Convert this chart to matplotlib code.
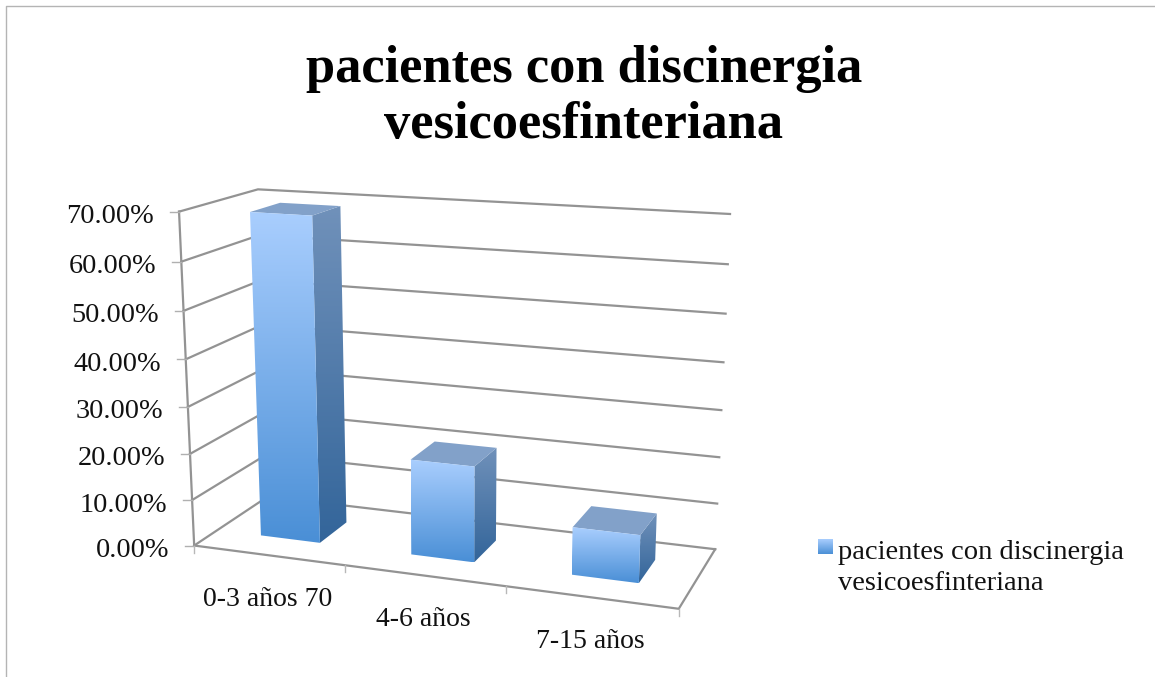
import numpy as np
import matplotlib
matplotlib.use('Agg')
import matplotlib.pyplot as plt
from matplotlib.patches import Polygon

# Data
categories = ['0-3 años 70', '4-6 años', '7-15 años']
values = [69, 20.4, 10]
y_ticks = [0, 10, 20, 30, 40, 50, 60, 70]
y_tick_labels = ['0.00%', '10.00%', '20.00%', '30.00%', '40.00%', '50.00%', '60.00%', '70.00%']
series_name = 'pacientes con discinergia\nvesicoesfinteriana'
title = 'pacientes con discinergia\nvesicoesfinteriana'

# Style
W, H = 1155, 677
grid_color = '#939393'
serif = 'Liberation Serif'
bar_width = 0.4
bar_depth = (0.3, 0.7)

# 3D chart box corners (category, value, depth) and where they land on the canvas
box_corners = [(0, 0, 0), (0, 70, 0), (0, 0, 1), (0, 70, 1), (3, 0, 1), (3, 70, 1), (3, 0, 0)]
box_pixels = [(194, 545), (179, 212), (268, 497), (258, 189), (715, 549), (730, 214), (679, 609)]


def fit_camera(corners, pixels):
    # plain DLT fit for a perspective camera
    rows = []
    for (x, y, z), (u, v) in zip(corners, pixels):
        rows.append([x, y, z, 1, 0, 0, 0, 0, -u * x, -u * y, -u * z, -u])
        rows.append([0, 0, 0, 0, x, y, z, 1, -v * x, -v * y, -v * z, -v])
    return np.linalg.svd(np.array(rows, dtype=float))[2][-1].reshape(3, 4)


camera = fit_camera(box_corners, box_pixels)


def project(x, y, z):
    p = camera @ np.array([x, y, z, 1.0])
    return p[0] / p[2], p[1] / p[2]


def gradient_fill(ax, points, top, bottom, zorder):
    points = np.array(points)
    patch = Polygon(points, closed=True, facecolor='none', edgecolor='none', zorder=zorder)
    ax.add_patch(patch)
    t = np.linspace(0, 1, 128)[:, None, None]
    img = (1 - t) * np.array(matplotlib.colors.to_rgb(top)) + t * np.array(matplotlib.colors.to_rgb(bottom))
    im = ax.imshow(img, extent=(points[:, 0].min(), points[:, 0].max(), points[:, 1].max(), points[:, 1].min()),
                   aspect='auto', zorder=zorder, interpolation='bilinear')
    im.set_clip_path(patch)


fig = plt.figure(figsize=(W / 100, H / 100), dpi=100)
ax = fig.add_axes([0, 0, 1, 1])

# Chart border (only top and left show)
ax.plot([6, 6, W], [H, 6, 6], color='#b4b4b4', lw=1.0, zorder=1)

# Walls
for v in y_ticks:
    pts = [project(0, v, 0), project(0, v, 1), project(3, v, 1)]
    ax.plot(*zip(*pts), color=grid_color, lw=1.6, zorder=2)

# Axes lines, floor and tick marks
ax.plot(*zip(project(0, 0, 0), project(0, 70, 0)), color=grid_color, lw=1.6, zorder=2)
ax.plot(*zip(project(0, 0, 0), project(3, 0, 0), project(3, 0, 1)), color=grid_color, lw=1.6, zorder=2)
for v in y_ticks:
    px, py = project(0, v, 0)
    ax.plot([px - 9, px], [py, py], color='#b0b0b0', lw=1.0, zorder=2)
for i in range(len(categories) + 1):
    px, py = project(i, 0, 0)
    ax.plot([px, px], [py, py + 7], color='#b8b8b8', lw=1.0, zorder=2)

# Bars
z0, z1 = bar_depth
for i, val in enumerate(values):
    x0 = i + 0.5 - bar_width / 2
    x1 = i + 0.5 + bar_width / 2
    side = [project(x1, val, z0), project(x1, val, z1), project(x1, 0, z1), project(x1, 0, z0)]
    gradient_fill(ax, side, '#7091ba', '#33659a', 5)
    top = [project(x0, val, z0), project(x1, val, z0), project(x1, val, z1), project(x0, val, z1)]
    ax.add_patch(Polygon(top, closed=True, facecolor='#82a1c9', edgecolor='none', zorder=6))
    front = [project(x0, val, z0), project(x1, val, z0), project(x1, 0, z0), project(x0, 0, z0)]
    gradient_fill(ax, front, '#a9cefe', '#4a8fd6', 7)

# Tick labels
for v, label in zip(y_ticks, y_tick_labels):
    px, py = project(0, v, 0)
    ax.text(px - 25, py + 5, label, ha='right', va='center', family=serif, fontsize=20.3, color='#111111', zorder=8)
for i, label in enumerate(categories):
    px, py = project(i + 0.5, 0, 0)
    ax.text(px - 1, py + 44, label, ha='center', va='center', family=serif, fontsize=20, color='#111111', zorder=8)

# Title
ax.text(584, 97, title, ha='center', va='center', family=serif, fontweight='bold', fontsize=37.8,
        linespacing=1.22, color='black', zorder=8)

# Legend
gradient_fill(ax, [(818, 539), (833, 539), (833, 554), (818, 554)], '#a9cefe', '#4a8fd6', 7)
ax.text(838, 568, series_name, ha='left', va='center', family=serif, fontsize=20.5,
        linespacing=1.33, color='#111111', zorder=8)

ax.set_xlim(0, W)
ax.set_ylim(H, 0)
ax.axis('off')

fig.savefig('out.png', dpi=100, facecolor='white')
